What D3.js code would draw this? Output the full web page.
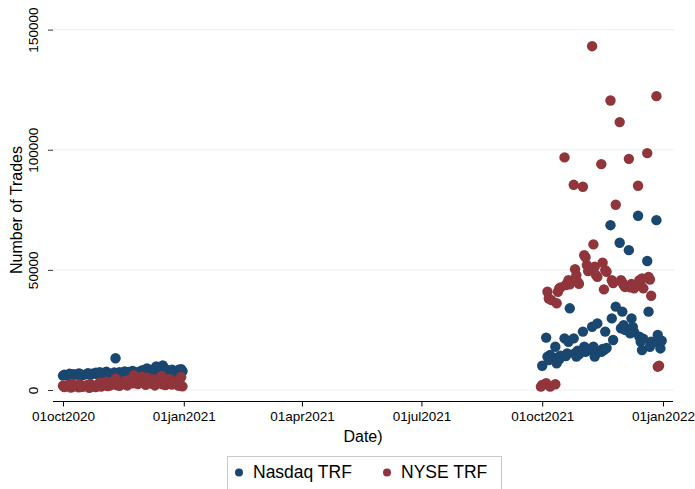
<!DOCTYPE html>
<html>
<head>
<meta charset="utf-8">
<script src="https://cdn.jsdelivr.net/npm/d3@7"></script>
<style>
  html, body { margin: 0; padding: 0; background: #fff; }
  svg { display: block; font-family: "Liberation Sans", Arial, Helvetica, sans-serif; }
</style>
</head>
<body>
<svg id="chart" width="695" height="489"></svg>
<script>
// Daily trade counts reported to the two trade reporting facilities.
const nasdaqDates = [
  "2020-10-01","2020-10-02","2020-10-05","2020-10-06","2020-10-07","2020-10-08","2020-10-09",
  "2020-10-12","2020-10-13","2020-10-14","2020-10-15","2020-10-16","2020-10-19","2020-10-20",
  "2020-10-21","2020-10-22","2020-10-23","2020-10-26","2020-10-27","2020-10-28","2020-10-29","2020-10-30",
  "2020-11-02","2020-11-03","2020-11-04","2020-11-05","2020-11-06","2020-11-09","2020-11-10",
  "2020-11-11","2020-11-12","2020-11-13","2020-11-16","2020-11-17","2020-11-18","2020-11-19",
  "2020-11-20","2020-11-23","2020-11-24","2020-11-25","2020-11-27","2020-11-30",
  "2020-12-01","2020-12-02","2020-12-03","2020-12-04","2020-12-07","2020-12-08","2020-12-09",
  "2020-12-10","2020-12-11","2020-12-14","2020-12-15","2020-12-16","2020-12-17","2020-12-18",
  "2020-12-21","2020-12-22","2020-12-23","2020-12-24","2020-12-28","2020-12-29","2020-12-30","2020-12-31",
  "2021-10-01","2021-10-04","2021-10-05","2021-10-06","2021-10-07","2021-10-08","2021-10-11",
  "2021-10-12","2021-10-13","2021-10-14","2021-10-15","2021-10-18","2021-10-19","2021-10-20",
  "2021-10-21","2021-10-22","2021-10-25","2021-10-26","2021-10-27","2021-10-28","2021-10-29",
  "2021-11-01","2021-11-02","2021-11-03","2021-11-04","2021-11-05","2021-11-08","2021-11-09",
  "2021-11-10","2021-11-11","2021-11-12","2021-11-15","2021-11-16","2021-11-17","2021-11-18",
  "2021-11-19","2021-11-22","2021-11-23","2021-11-24","2021-11-26","2021-11-29","2021-11-30",
  "2021-12-01","2021-12-02","2021-12-03","2021-12-06","2021-12-07","2021-12-08","2021-12-09",
  "2021-12-10","2021-12-13","2021-12-14","2021-12-15","2021-12-16","2021-12-17","2021-12-20",
  "2021-12-21","2021-12-22","2021-12-23","2021-12-27","2021-12-28","2021-12-29","2021-12-30","2021-12-31"
];
const nasdaqTrades = [
  6000,6400,6200,6800,6500,6100,6600,6300,6900,6700,6400,6200,6500,7000,6600,6300,6800,7200,6500,6900,7400,6600,
  7100,7600,6900,6500,6800,7300,13200,6700,7000,7400,6900,7700,7200,6800,7500,7900,7100,6600,7400,8100,
  7600,8300,7200,9000,7800,7400,8600,7100,9800,7700,8200,10200,7500,8800,7300,7900,8500,6900,8400,7600,8700,7800,
  10100,21800,13900,12500,14600,13200,18000,11100,13600,12800,14300,21500,14100,15200,20100,34000,21500,15300,13900,16400,14800,
  24300,18000,15900,17200,16500,26300,18000,13900,15400,27700,15900,17100,16600,24300,17500,68600,29800,20800,34700,61300,25700,
  32600,27000,25000,58200,23600,29800,26200,24100,72500,22200,20100,16600,21300,53700,32600,18000,20100,70700,22900,19400,17300,20500
];

const nyseDates = [
  "2020-10-01","2020-10-02","2020-10-05","2020-10-06","2020-10-07","2020-10-08","2020-10-09",
  "2020-10-12","2020-10-13","2020-10-14","2020-10-15","2020-10-16","2020-10-19","2020-10-20",
  "2020-10-21","2020-10-22","2020-10-23","2020-10-26","2020-10-27","2020-10-28","2020-10-29","2020-10-30",
  "2020-11-02","2020-11-03","2020-11-04","2020-11-05","2020-11-06","2020-11-09","2020-11-10",
  "2020-11-11","2020-11-12","2020-11-13","2020-11-16","2020-11-17","2020-11-18","2020-11-19",
  "2020-11-20","2020-11-23","2020-11-24","2020-11-25","2020-11-27","2020-11-30",
  "2020-12-01","2020-12-02","2020-12-03","2020-12-04","2020-12-07","2020-12-08","2020-12-09",
  "2020-12-10","2020-12-11","2020-12-14","2020-12-15","2020-12-16","2020-12-17","2020-12-18",
  "2020-12-21","2020-12-22","2020-12-23","2020-12-24","2020-12-28","2020-12-29","2020-12-30","2020-12-31",
  "2021-09-30","2021-10-01","2021-10-04","2021-10-05","2021-10-06","2021-10-07","2021-10-08",
  "2021-10-11","2021-10-12","2021-10-13","2021-10-14","2021-10-15","2021-10-18","2021-10-19",
  "2021-10-20","2021-10-21","2021-10-22","2021-10-25","2021-10-26","2021-10-27","2021-10-28","2021-10-29",
  "2021-11-01","2021-11-02","2021-11-03","2021-11-04","2021-11-05","2021-11-08","2021-11-09",
  "2021-11-10","2021-11-11","2021-11-12","2021-11-15","2021-11-16","2021-11-17","2021-11-18",
  "2021-11-19","2021-11-22","2021-11-23","2021-11-24","2021-11-26","2021-11-29","2021-11-30",
  "2021-12-01","2021-12-02","2021-12-03","2021-12-06","2021-12-07","2021-12-08","2021-12-09",
  "2021-12-10","2021-12-13","2021-12-14","2021-12-15","2021-12-16","2021-12-17","2021-12-20",
  "2021-12-21","2021-12-22","2021-12-23","2021-12-27","2021-12-28","2021-12-29"
];
const nyseTrades = [
  1800,1200,2200,1500,1000,2600,1400,1900,1100,2300,1600,1300,2000,1700,900,2400,1500,1200,2100,1800,3000,1400,
  2200,3500,1600,2800,1900,2500,4800,2100,3200,1700,2600,3800,2300,1900,4200,2800,6200,3400,2500,5500,
  2900,4100,2200,5200,3300,2600,4500,1900,3600,2800,5800,2400,3900,2100,4600,3000,2300,3700,1800,2700,5400,1500,
  1400,2100,2800,40900,38100,1400,37400,
  2400,36100,40900,42300,42700,96800,43700,44400,45700,44000,85400,50300,47800,45000,44200,
  84600,56100,55200,52000,49500,143100,60600,51300,47800,47100,94000,53000,41900,49900,49200,
  120500,45700,44500,77100,111500,45700,
  44800,43700,42900,96200,42700,44100,43300,42300,85000,45700,43700,46400,42300,98600,
  47100,46000,39200,122300,9700,10100
];

const seriesNames = ["Nasdaq TRF", "NYSE TRF"];
const seriesColors = ["#1a476f", "#90353b"];

const xTickDates = ["2020-10-01","2021-01-01","2021-04-01","2021-07-01","2021-10-01","2022-01-01"];
const xTickLabels = ["01oct2020","01jan2021","01apr2021","01jul2021","01oct2021","01jan2022"];
const yTickValues = [0, 50000, 100000, 150000];

const parse = d3.timeParse("%Y-%m-%d");

const svg = d3.select("#chart");
svg.append("rect").attr("width", 695).attr("height", 489).attr("fill", "#ffffff");

// Plot region
const left = 53, right = 674, axisY = 401;

const x = d3.scaleTime()
  .domain([parse(xTickDates[0]), parse(xTickDates[xTickDates.length - 1])])
  .range([63, 663]);

const y = d3.scaleLinear()
  .domain([0, 150000])
  .range([390, 29.6]);

// Horizontal grid lines
svg.append("g")
  .selectAll("line")
  .data(yTickValues)
  .join("line")
  .attr("x1", left)
  .attr("x2", right)
  .attr("y1", d => y(d))
  .attr("y2", d => y(d))
  .attr("stroke", "#eaf2f3")
  .attr("stroke-width", 1.2);

// Y axis: ticks and rotated labels, no axis line
const yAxis = svg.append("g")
  .attr("transform", `translate(${left},0)`)
  .call(d3.axisLeft(y).tickValues(yTickValues).tickSize(5).tickFormat(d3.format("d")));
yAxis.select(".domain").remove();
yAxis.selectAll(".tick line").attr("stroke", "#333");
yAxis.selectAll(".tick text")
  .attr("x", null).attr("dy", null)
  .attr("text-anchor", "middle")
  .attr("transform", "translate(-15,0) rotate(-90)")
  .attr("font-size", 13.5)
  .attr("font-family", "'Liberation Sans', Arial, sans-serif")
  .attr("fill", "#000");

// X axis
const xAxis = svg.append("g")
  .attr("transform", `translate(0,${axisY})`)
  .call(d3.axisBottom(x)
    .tickValues(xTickDates.map(parse))
    .tickSize(5.5)
    .tickFormat((d, i) => xTickLabels[i]));
xAxis.select(".domain").remove();
xAxis.append("line")
  .attr("x1", left).attr("x2", right - 1)
  .attr("y1", 0.5).attr("y2", 0.5)
  .attr("stroke", "#000");
xAxis.selectAll(".tick line").attr("stroke", "#000");
xAxis.selectAll(".tick text")
  .attr("y", 20).attr("dy", null)
  .attr("font-size", 13.5)
  .attr("font-family", "'Liberation Sans', Arial, sans-serif")
  .attr("fill", "#000");

// Axis titles
svg.append("text")
  .attr("x", 363).attr("y", 441.5)
  .attr("text-anchor", "middle")
  .attr("font-size", 16)
  .text("Date)");

svg.append("text")
  .attr("transform", "translate(22,210) rotate(-90)")
  .attr("text-anchor", "middle")
  .attr("font-size", 16)
  .text("Number of Trades");

// Scatter points: Nasdaq first, NYSE drawn on top
const series = [
  nasdaqDates.map((d, i) => ({ date: parse(d), value: nasdaqTrades[i] })),
  nyseDates.map((d, i) => ({ date: parse(d), value: nyseTrades[i] }))
];

series.forEach((pts, k) => {
  svg.append("g")
    .selectAll("circle")
    .data(pts)
    .join("circle")
    .attr("cx", d => x(d.date))
    .attr("cy", d => y(d.value))
    .attr("r", 5.2)
    .attr("fill", seriesColors[k]);
});

// Legend
const legend = svg.append("g");
legend.append("rect")
  .attr("x", 227.5).attr("y", 456.5)
  .attr("width", 274).attr("height", 34)
  .attr("fill", "#fff")
  .attr("stroke", "#c8c8c8");

const legendX = [239, 387];
seriesNames.forEach((name, k) => {
  legend.append("circle")
    .attr("cx", legendX[k]).attr("cy", 472.5)
    .attr("r", 4)
    .attr("fill", seriesColors[k]);
  legend.append("text")
    .attr("x", legendX[k] + 14).attr("y", 478)
    .attr("font-size", 17.5)
    .text(name);
});
</script>
</body>
</html>
